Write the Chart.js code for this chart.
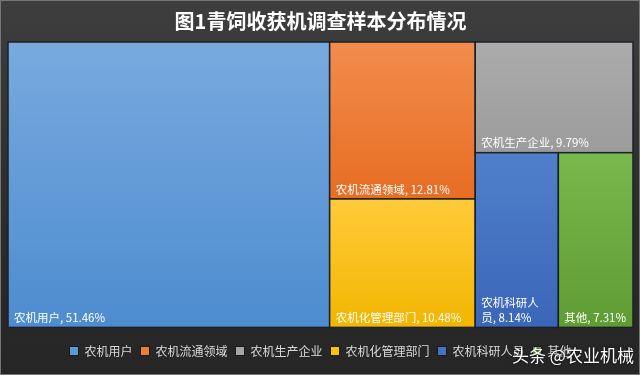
<!DOCTYPE html>
<html>
<head>
<meta charset="utf-8">
<script src="https://cdn.jsdelivr.net/npm/chart.js@4.4.1/dist/chart.umd.min.js"></script>
<style>
  html, body { margin: 0; padding: 0; }
  body { width: 640px; height: 375px; overflow: hidden;
         background: linear-gradient(#3e3e3e, #2b2b2b 60%, #262626); }
  #wrap { position: relative; width: 638px; height: 373px; border: 1px solid #777; }
</style>
</head>
<body>
<div id="wrap"><canvas id="treemap"></canvas></div>
<script>
const categories = ['农机用户', '农机流通领域', '农机生产企业', '农机化管理部门', '农机科研人员', '其他'];
const shares = [51.46, 12.81, 9.79, 10.48, 8.14, 7.31];
const colorsTop = ['#78aade', '#f28c4c', '#ababab', '#ffca3a', '#5080cc', '#78b84c'];
const colorsBottom = ['#4d8cd0', '#e76d22', '#9c9c9c', '#f2b600', '#3a66b8', '#5f9c34'];
const legendColors = ['#5b9bd5', '#ed7d31', '#a5a5a5', '#ffc000', '#4472c4', '#70ad47'];

// treemap frame in data units
const frameW = 100;
const frameH = 40;

function worst(row, side) {
    const s = row.reduce((a, b) => a + b, 0);
    let w = 0;
    for (const r of row) {
        w = Math.max(w, (side * side * r) / (s * s), (s * s) / (side * side * r));
    }
    return w;
}

// squarified layout, returns rect per index (in data units)
function squarify(values, W, H) {
    const order = values.map((v, i) => i).sort((a, b) => values[b] - values[a]);
    const total = values.reduce((a, b) => a + b, 0);
    const area = values.map(v => v * W * H / total);
    const rects = [];
    let rect = { x: 0, y: 0, w: W, h: H };
    let i = 0;
    while (i < order.length) {
        const side = Math.min(rect.w, rect.h);
        let row = [order[i]];
        let j = i + 1;
        while (j < order.length &&
               worst(row.concat(order[j]).map(k => area[k]), side) <= worst(row.map(k => area[k]), side)) {
            row.push(order[j]);
            j++;
        }
        const s = row.reduce((a, k) => a + area[k], 0);
        if (rect.w >= rect.h) {
            const cw = s / rect.h;
            let y = rect.y;
            for (const k of row) {
                const hh = area[k] / cw;
                rects[k] = { x0: rect.x, x1: rect.x + cw, y0: y, y1: y + hh };
                y += hh;
            }
            rect = { x: rect.x + cw, y: rect.y, w: rect.w - cw, h: rect.h };
        } else {
            const ch = s / rect.w;
            let x = rect.x;
            for (const k of row) {
                const ww = area[k] / ch;
                rects[k] = { x0: x, x1: x + ww, y0: rect.y, y1: rect.y + ch };
                x += ww;
            }
            rect = { x: rect.x, y: rect.y + ch, w: rect.w, h: rect.h - ch };
        }
        i = j;
    }
    return rects;
}

const boxes = squarify(shares, frameW, frameH);
const FONT = '"Noto Sans CJK SC", "Noto Sans", sans-serif';

const treemapPlugin = {
    id: 'treemapPlugin',
    afterDatasetsDraw(chart) {
        const ctx = chart.ctx;
        const xs = chart.scales.x, ys = chart.scales.y;
        ctx.save();
        boxes.forEach((b, i) => {
            const left = xs.getPixelForValue(b.x0), right = xs.getPixelForValue(b.x1);
            const top = ys.getPixelForValue(b.y0), bottom = ys.getPixelForValue(b.y1);
            const grad = ctx.createLinearGradient(0, top, 0, bottom);
            grad.addColorStop(0, colorsTop[i]);
            grad.addColorStop(1, colorsBottom[i]);
            ctx.fillStyle = grad;
            ctx.fillRect(left, top, right - left, bottom - top);
            ctx.strokeStyle = '#1c2028';
            ctx.lineWidth = 1.5;
            ctx.strokeRect(left, top, right - left, bottom - top);

            // label anchored bottom-left, wrapped by character when too wide
            ctx.font = '11.5px ' + FONT;
            ctx.fillStyle = '#ffffff';
            ctx.textBaseline = 'bottom';
            ctx.textAlign = 'left';
            const text = categories[i] + ', ' + shares[i].toFixed(2) + '%';
            const lines = [];
            if (ctx.measureText(text).width <= right - left - 8) {
                lines.push(text);
            } else {
                const maxW = right - left - 20;
                let line = '';
                for (const ch of text) {
                    if (line && ctx.measureText(line + ch).width > maxW) {
                        lines.push(line);
                        line = ch.trim() ? ch : '';
                    } else {
                        line += ch;
                    }
                }
                lines.push(line);
            }
            lines.reverse().forEach((l, n) => {
                ctx.fillText(l, left + 6, bottom - 4 - n * 15);
            });
        });

        // watermark
        ctx.font = '17px ' + FONT;
        ctx.fillStyle = '#ffffff';
        ctx.shadowColor = 'rgba(0,0,0,0.8)';
        ctx.shadowBlur = 3;
        ctx.textBaseline = 'middle';
        ctx.fillText('头条 @农业机械', 511, 355);
        ctx.restore();
    }
};

const datasets = categories.map((name, i) => ({
    label: name,
    data: [{ x: (boxes[i].x0 + boxes[i].x1) / 2, y: (boxes[i].y0 + boxes[i].y1) / 2 }],
    backgroundColor: legendColors[i],
    borderColor: '#1a1a1a',
    borderWidth: 1,
    pointRadius: 0
}));

new Chart(document.getElementById('treemap'), {
    type: 'scatter',
    data: { datasets: datasets },
    options: {
        responsive: true,
        maintainAspectRatio: false,
        animation: false,
        layout: { padding: { left: 7, right: 6, top: 0, bottom: 7 } },
        scales: {
            x: { type: 'linear', min: 0, max: frameW, display: false },
            y: { type: 'linear', min: 0, max: frameH, reverse: true, display: false }
        },
        plugins: {
            title: {
                display: true,
                text: '图1青饲收获机调查样本分布情况',
                color: '#ffffff',
                font: { family: FONT, size: 20, weight: 'bold' },
                padding: { top: 8, bottom: 9 }
            },
            legend: {
                position: 'bottom',
                title: { display: true, text: ' ', padding: 0, font: { size: 8 } },
                labels: {
                    color: '#d9d9d9',
                    font: { family: FONT, size: 12 },
                    boxWidth: 9,
                    boxHeight: 9,
                    padding: 8
                }
            },
            tooltip: { enabled: false }
        }
    },
    plugins: [treemapPlugin]
});
</script>
</body>
</html>
